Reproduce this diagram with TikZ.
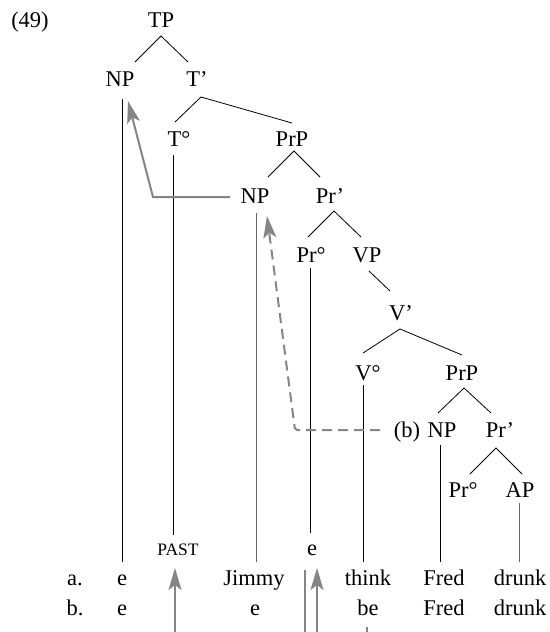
\documentclass[tikz,border=0pt]{standalone}
\usepackage{fontspec}
\setmainfont{Liberation Serif}
\usetikzlibrary{arrows.meta}
\begin{document}
\begin{tikzpicture}[x=1pt,y=-1pt,
  lab/.style={anchor=base,inner sep=0pt,font=\fontsize{22.5}{26}\selectfont},
  smalllab/.style={anchor=base,inner sep=0pt,font=\fontsize{17.5}{20}\selectfont},
  branch/.style={line width=0.8pt,black},
  faint/.style={line width=0.8pt,black!60},
  trace/.style={line width=2pt,black!48},
  move/.style={trace,-{Stealth[length=22pt,width=13pt,inset=5pt]}}]
\useasboundingbox (0,0) rectangle (549,632);
\coordinate (bot) at (0,632);

% example number
\node[lab] (ex) at (30,27) {(49)};

% tree labels
\node[lab] (tp)   at (161,27)  {TP};
\node[lab] (np1)  at (120,86)  {NP};
\node[lab] (tb1)  at (197,86)  {T’};
\node[lab] (t0)   at (179,146) {T°};
\node[lab] (prp1) at (292,146) {PrP};
\node[lab] (np2)  at (255,203) {NP};
\node[lab] (prb1) at (330,203) {Pr’};
\node[lab] (pr01) at (311,262) {Pr°};
\node[lab] (vp)   at (367,262) {VP};
\node[lab] (vb)   at (401,320) {V’};
\node[lab] (v0)   at (368,380) {V°};
\node[lab] (prp2) at (462,380) {PrP};
\node[lab] (blab) at (407,437) {(b)};
\node[lab] (np3)  at (442,437) {NP};
\node[lab] (prb2) at (500,437) {Pr’};
\node[lab] (pr02) at (463,497) {Pr°};
\node[lab] (ap)   at (520,497) {AP};

% terminal rows
\node[smalllab] (past) at (178,555) {PAST};
\node[lab] (e0)     at (312,555) {e};
\node[lab] (la)     at (75,585)  {a.};
\node[lab] (ea)     at (122,585) {e};
\node[lab] (jimmy)  at (254,585) {Jimmy};
\node[lab] (think)  at (368,585) {think};
\node[lab] (freda)  at (444,585) {Fred};
\node[lab] (drunka) at (520,585) {drunk};
\node[lab] (lb)     at (75,615)  {b.};
\node[lab] (eb1)    at (122,615) {e};
\node[lab] (eb2)    at (255,615) {e};
\node[lab] (be)     at (368,615) {be};
\node[lab] (fredb)  at (444,615) {Fred};
\node[lab] (drunkb) at (520,615) {drunk};

% branches
\draw[branch] ([shift={(15,-24)}]np1.base) -- ([shift={(0,9)}]tp.base) -- ([shift={(-9,-24)}]tb1.base);
\draw[branch] ([shift={(-4,-24)}]t0.base) -- ([shift={(4,11)}]tb1.base) -- ([shift={(0,-23)}]prp1.base);
\draw[branch] ([shift={(13,-26)}]np2.base) -- ([shift={(2,5)}]prp1.base) -- ([shift={(-10,-26)}]prb1.base);
\draw[branch] ([shift={(-3,-25)}]pr01.base) -- ([shift={(4,8)}]prb1.base) -- ([shift={(-6,-25)}]vp.base);
\draw[branch] ([shift={(2,9)}]vp.base) -- ([shift={(-11,-29)}]vb.base);
\draw[branch] ([shift={(-5,-27)}]v0.base) -- ([shift={(-1,9)}]vb.base) -- ([shift={(0,-25)}]prp2.base);
\draw[branch] ([shift={(-4,-24)}]np3.base) -- ([shift={(2,8)}]prp2.base) -- ([shift={(-9,-24)}]prb2.base);
\draw[branch] ([shift={(7,-23)}]pr02.base) -- ([shift={(-4,11)}]prb2.base) -- ([shift={(2,-23)}]ap.base);

% unary lines down to the terminals
\draw[branch] ([shift={(2,13)}]np1.base) -- ([shift={(0,-23)}]ea.base);
\draw[branch] ([shift={(-6,9)}]t0.base) -- ([shift={(-5,-20)}]past.base);
\draw[faint]  ([shift={(1,10)}]np2.base) -- ([shift={(2,-23)}]jimmy.base);
\draw[branch] ([shift={(-1,6)}]pr01.base) -- ([shift={(-2,-22)}]e0.base);
\draw[branch] ([shift={(-5,5)}]v0.base) -- ([shift={(-5,-23)}]think.base);
\draw[branch] ([shift={(-2,8)}]np3.base) -- ([shift={(-4,-23)}]freda.base);
\draw[faint]  ([shift={(-1,6)}]ap.base) -- ([shift={(-1,-23)}]drunka.base);

% movement arrows
\draw[move] ([shift={(-25,-6)}]np2.base) -- ++(-77,0) -- ([shift={(8,15)}]np1.base);
\draw[move,dash pattern=on 10pt off 6pt,rounded corners=2pt]
  ([shift={(-27,-7)}]blab.base) -- ++(-85,0) -- ([shift={(12,13)}]np2.base);
\draw[move] ([shift={(-3,0)}]past.base |- bot) -- ([shift={(-3,13)}]past.base);
\draw[trace] ([shift={(-7,15)}]e0.base) -- ([shift={(-7,0)}]e0.base |- bot);
\draw[move] ([shift={(5,0)}]e0.base |- bot) -- ([shift={(5,13)}]e0.base);
\draw[trace] ([shift={(-1,12)}]be.base) -- ([shift={(-1,0)}]be.base |- bot);
\end{tikzpicture}
\end{document}
